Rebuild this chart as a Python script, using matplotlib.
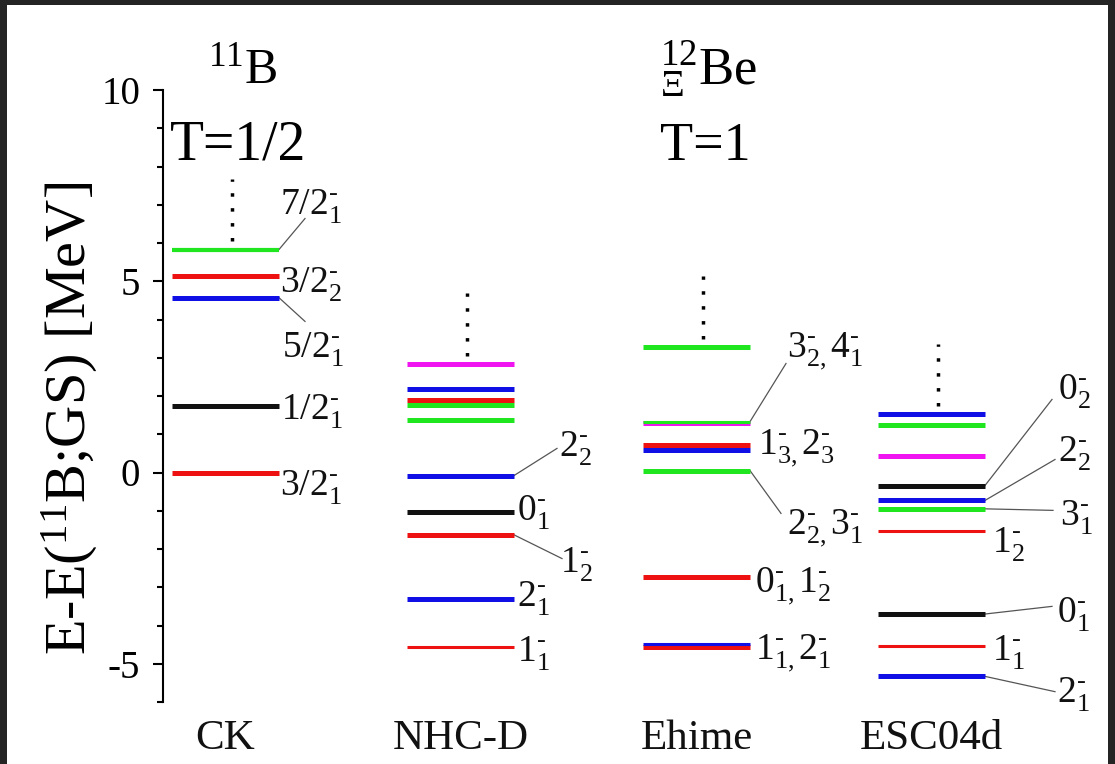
import matplotlib
matplotlib.use("Agg")
import matplotlib.pyplot as plt
from matplotlib.patches import Rectangle
from matplotlib.ticker import MultipleLocator

plt.rcParams['font.family'] = ['Liberation Serif', 'DejaVu Serif']
plt.rcParams['mathtext.fontset'] = 'custom'
plt.rcParams['mathtext.rm'] = 'Liberation Serif'
plt.rcParams['mathtext.it'] = 'Liberation Serif:italic'
plt.rcParams['mathtext.bf'] = 'Liberation Serif:bold'

HY = "\u2010"  # short hyphen for the parity sign

# level energies (MeV)
models = ["CK", "NHC-D", "Ehime", "ESC04d"]
ck_levels = [5.83, 5.14, 4.57, 1.73, 0.0]
nhcd_levels = [2.83, 2.18, 1.89, 1.76, 1.36, -0.08, -1.02, -1.63, -3.30, -4.57]
ehime_levels = [3.28, 1.30, 1.33, 0.71, 0.58, 0.05, -2.73, -4.55, -4.48]
esc_levels = [1.52, 1.23, 0.42, -0.34, -0.73, -0.95, -1.52, -3.70, -4.54, -5.33]

# styles
G, R, B, K, M = "#1fe61f", "#ee1111", "#1010e6", "#111111", "#f015f0"
ck_colors = [G, R, B, K, R]
nhcd_colors = [M, B, R, G, G, B, K, R, B, R]
ehime_colors = [G, M, G, R, B, G, R, R, B]
esc_colors = [B, G, M, K, B, G, R, K, R, B]
TH, TN = 3.6, 2.2
ck_widths = [3.0, TH, TH, TH, TH]
nhcd_widths = [TH, TH, TH, TH, TH, TH, TH, TH, TH, TN]
ehime_widths = [TH, TH, TN, TH, TH, TH, TH, TH, TN]
esc_widths = [TH, TH, TH, TH, TH, TH, TN, TH, TN, TH]


def st(j, n):
    return j + "^{" + HY + "}_{" + n + "}"


# labels: text, x, y(baseline), level index for connector, connector end
ck_labels = [
    ("$" + st("7/2", "1") + "$", 117, 6.75, 0, (142, 6.64)),
    ("$" + st("3/2", "2") + "$", 117, 4.73, None, None),
    ("$" + st("5/2", "1") + "$", 119, 3.03, 2, (142, 3.95)),
    ("$" + st("1/2", "1") + "$", 118, 1.39, None, None),
    ("$" + st("3/2", "1") + "$", 117, -0.58, None, None),
]
nhcd_labels = [
    ("$" + st("2", "2") + "$", 396, 0.42, 5, (394, 0.63)),
    ("$" + st("0", "1") + "$", 354, -1.25, None, None),
    ("$" + st("1", "2") + "$", 397, -2.59, 7, (399, -2.25)),
    ("$" + st("2", "1") + "$", 354, -3.50, None, None),
    ("$" + st("1", "1") + "$", 354, -4.94, None, None),
]
ehime_labels = [
    ("$" + st("3", "2,") + st("4", "1") + "$", 624, 3.03, 2, (623, 2.85)),
    ("$" + st("1", "3,") + st("2", "3") + "$", 595, 0.50, None, None),
    ("$" + st("2", "2,") + st("3", "1") + "$", 624, -1.59, 5, (618, -1.07)),
    ("$" + st("0", "1,") + st("1", "2") + "$", 592, -3.11, None, None),
    ("$" + st("1", "1,") + st("2", "1") + "$", 592, -4.86, None, None),
]
esc_labels = [
    ("$" + st("0", "2") + "$", 895, 1.93, 3, (889, 1.91)),
    ("$" + st("2", "2") + "$", 895, 0.29, 4, (892, 0.34)),
    ("$" + st("3", "1") + "$", 897, -1.36, 5, (890, -0.99)),
    ("$" + st("1", "2") + "$", 829, -2.07, None, None),
    ("$" + st("0", "1") + "$", 894, -3.90, 7, (889, -3.50)),
    ("$" + st("1", "1") + "$", 829, -4.89, None, None),
    ("$" + st("2", "1") + "$", 894, -5.99, 9, (892, -5.73)),
]

col_left = [9, 244, 480, 715]
col_width = 107

fig = plt.figure(figsize=(11.15, 7.64), dpi=100)
fig.patch.set_facecolor("#242424")
fig.patches.append(Rectangle((7 / 1115, 0), 1101 / 1115, 759 / 764,
                             transform=fig.transFigure, facecolor="white",
                             edgecolor="none", zorder=-10))

ax = fig.add_axes([163 / 1115, 62 / 764, 945 / 1115, 612 / 764])
ax.set_facecolor("none")
ax.set_xlim(0, 945)
ax.set_ylim(-6, 10)

columns = [
    (ck_levels, ck_colors, ck_widths, ck_labels),
    (nhcd_levels, nhcd_colors, nhcd_widths, nhcd_labels),
    (ehime_levels, ehime_colors, ehime_widths, ehime_labels),
    (esc_levels, esc_colors, esc_widths, esc_labels),
]

for i, (levels, colors, widths, labels) in enumerate(columns):
    x0 = col_left[i]
    x1 = x0 + col_width
    for e, c, w in zip(levels, colors, widths):
        z = 3 if w < TH else 2
        ax.plot([x0, x1], [e, e], color=c, lw=w, solid_capstyle='butt', zorder=z)
    # dotted line above the highest level
    top = max(levels)
    xd = x0 + col_width / 2 + 6
    ax.plot([xd, xd], [top + 0.22, top + 1.85], color="k", lw=2.5,
            linestyle=(0, (1, 3.3)), zorder=2)
    for text, tx, ty, idx, cend in labels:
        ax.text(tx, ty, text, fontsize=27, ha='left', va='baseline', color="#111111")
        if idx is not None:
            ax.plot([x1, cend[0]], [levels[idx], cend[1]], color="#555555", lw=0.9, zorder=1)
    ax.text(x0 + col_width / 2, -7.22, models[i], fontsize=31, ha='center',
            va='baseline', clip_on=False, color="#111111")

# headers
ax.text(45, 10.17, r'$^{11}\mathrm{B}$', fontsize=36, ha='left', va='baseline', clip_on=False)
ax.text(7, 8.18, 'T=1/2', fontsize=40, ha='left', va='baseline', clip_on=False)
ax.text(497, 10.14, r'$^{12}_{\Xi}\mathrm{Be}$', fontsize=38, ha='left', va='baseline', clip_on=False)
ax.text(497, 8.18, 'T=1', fontsize=39, ha='left', va='baseline', clip_on=False)

for s in ['top', 'right', 'bottom']:
    ax.spines[s].set_visible(False)
ax.spines['left'].set_linewidth(1.5)
ax.set_xticks([])
ax.yaxis.set_major_locator(MultipleLocator(5))
ax.yaxis.set_minor_locator(MultipleLocator(1))
ax.tick_params(axis='y', which='major', direction='out', length=7.5, width=1.5,
               labelsize=28, pad=9)
ax.tick_params(axis='y', which='minor', direction='out', length=4.3, width=1.5)
ax.set_yticks([-5, 0, 5, 10])
ax.set_yticklabels(['-5', '0', '5', '10'])

fig.text(70 / 1115, 1 - 418 / 764, r'E-E($^{11}$B;GS) [MeV]', fontsize=42,
         rotation=90, ha='center', va='center')

fig.savefig("out.png", dpi=100, facecolor=fig.get_facecolor())
